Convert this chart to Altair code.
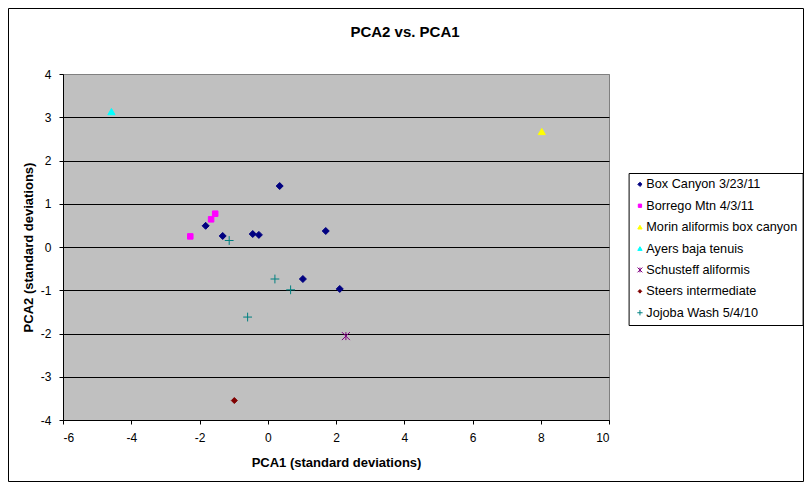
import altair as alt
import pandas as pd

# ---------------- data ----------------
series = ["Box Canyon 3/23/11", "Borrego Mtn 4/3/11", "Morin aliformis box canyon",
          "Ayers baja tenuis", "Schusteff aliformis", "Steers intermediate",
          "Jojoba Wash 5/4/10"]
colors = ["#000080", "#FF00FF", "#FFFF00", "#00FFFF", "#800080", "#800000", "#008080"]

box_x = [0.35, -1.82, -1.32, -0.44, -0.26, 1.70, 1.03, 2.11]
box_y = [1.41, 0.49, 0.255, 0.30, 0.28, 0.37, -0.74, -0.97]
borrego_x = [-2.27, -1.66, -1.54]
borrego_y = [0.245, 0.64, 0.77]
morin_x = [8.03]
morin_y = [2.67]
ayers_x = [-4.58]
ayers_y = [3.13]
schusteff_x = [2.29]
schusteff_y = [-2.06]
steers_x = [-0.98]
steers_y = [-3.55]
jojoba_x = [-1.13, 0.21, 0.67, -0.59]
jojoba_y = [0.15, -0.74, -0.99, -1.62]

x_ticks = [-6, -4, -2, 0, 2, 4, 6, 8, 10]
y_ticks = [-4, -3, -2, -1, 0, 1, 2, 3, 4]

# ---------------- build table ----------------
all_x = [box_x, borrego_x, morin_x, ayers_x, schusteff_x, steers_x, jojoba_x]
all_y = [box_y, borrego_y, morin_y, ayers_y, schusteff_y, steers_y, jojoba_y]
rows = []
for name, xs, ys in zip(series, all_x, all_y):
    for a, b in zip(xs, ys):
        rows.append({"series": name, "pca1": a, "pca2": b})
df = pd.DataFrame(rows)

# ---------------- styling ----------------
FONT = "Liberation Sans, Arial, sans-serif"
# marker outlines (unit 1 = half the symbol box)
shapes = [
    "M0,-0.7L0.7,0L0,0.7L-0.7,0Z",                      # diamond
    "M-0.55,-0.55H0.55V0.55H-0.55Z",                    # square
    "M0,-0.62L0.72,0.62L-0.72,0.62Z",                   # triangle
    "M0,-0.62L0.72,0.62L-0.72,0.62Z",                   # triangle
    "M-0.8,-0.8L0.8,0.8M-0.8,0.8L0.8,-0.8M0,-0.8L0,0.8",  # asterisk
    "M0,-0.6L0.6,0L0,0.6L-0.6,0Z",                      # small diamond
    "M-0.88,0L0.88,0M0,-0.88L0,0.88",                   # plus
]

color_scale = alt.Scale(domain=series, range=colors)

points = alt.Chart(df).mark_point(filled=True, opacity=1, strokeWidth=1,
                                  size=100).encode(
    x=alt.X("pca1:Q",
            scale=alt.Scale(domain=[-6, 10], nice=False, zero=False),
            axis=alt.Axis(values=x_ticks, title="PCA1 (standard deviations)",
                          grid=False, labelPadding=8, titleY=42,
                          titleBaseline="middle",
                          labelExpr="'' + datum.value")),
    y=alt.Y("pca2:Q",
            scale=alt.Scale(domain=[-4, 4], nice=False, zero=False),
            axis=alt.Axis(values=y_ticks, title="PCA2 (standard deviations)",
                          grid=True,
                          gridColor={"condition": {"test": "datum.value == 4",
                                                   "value": "#808080"},
                                     "value": "black"},
                          gridWidth=1, gridOpacity=1,
                          labelPadding=8, titleX=-35, titleY=173,
                          titleAngle=270, titleBaseline="middle",
                          labelExpr="'' + datum.value")),
    fill=alt.Fill("series:N", scale=color_scale, title=None),
    stroke=alt.Stroke("series:N", scale=color_scale, title=None),
    shape=alt.Shape("series:N", scale=alt.Scale(domain=series, range=shapes),
                    title=None),
)

# outer chart-area border (decoration)
frame = alt.Chart(pd.DataFrame({"a": [0]})).mark_rect(
    filled=False, color="black", strokeWidth=1, clip=False
).encode(
    x=alt.value(-54.5), x2=alt.value(740.5),
    y=alt.value(-65.5), y2=alt.value(407.5),
)

chart = alt.layer(frame, points).properties(
    width=546, height=346,
    background="white",
    autosize=alt.AutoSizeParams(type="none"),
    padding={"left": 55, "top": 66, "right": 195, "bottom": 62},
    title=alt.TitleParams("PCA2 vs. PCA1", font=FONT, fontSize=15,
                          fontWeight="bold", color="black", anchor="middle",
                          frame="group", orient="none", baseline="middle",
                          dx=342, dy=-42),
).configure_view(
    fill="#C0C0C0", stroke="#808080", strokeWidth=1
).configure_axis(
    domainColor="black", domainWidth=1, tickColor="black", tickSize=4,
    tickWidth=1, labelFont=FONT, labelFontSize=12, labelColor="black",
    titleFont=FONT, titleFontSize=13, titleFontWeight="bold", titleColor="black"
).configure_legend(
    orient="none", legendX=565.6, legendY=99,
    strokeColor="black", fillColor="white", padding=5,
    rowPadding=7.4, symbolSize=36, symbolStrokeWidth=1,
    labelFont=FONT, labelFontSize=12.7, labelColor="black", labelLimit=200,
    labelOffset=0, cornerRadius=0
)

chart.save("out.html", embed_options={"renderer": "svg", "actions": False})
